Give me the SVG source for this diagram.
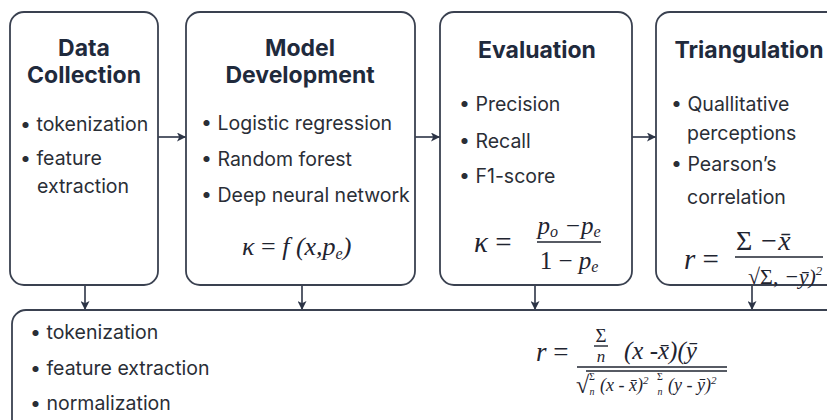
<svg xmlns="http://www.w3.org/2000/svg" width="827" height="420" viewBox="0 0 827 420">
<defs>
<marker id="ah" viewBox="0 0 10 10" refX="10" refY="5" markerWidth="9" markerHeight="9" markerUnits="userSpaceOnUse" orient="auto">
<path d="M0,0 L10,5 L0,10 L2.5,5 Z" fill="#2c3446"/>
</marker>
</defs>
<style>
.box{fill:#fff;stroke:#3a4150;stroke-width:1.8}
.t{font-family:Inter,"Liberation Sans",sans-serif;font-weight:700;font-size:23px;fill:#1f2a3c;text-anchor:middle}
.b{font-family:Inter,"Liberation Sans",sans-serif;font-size:19.5px;fill:#2a2e36}
.m{font-family:"Liberation Serif","DejaVu Serif",serif;font-style:italic;fill:#1f2430}
.u{font-family:"Liberation Serif","DejaVu Serif",serif;fill:#1f2430}
.c{stroke:#2c3446;stroke-width:1.6;fill:none}
.f{stroke:#1f2430;stroke-width:1.4;fill:none}
</style>
<rect width="827" height="420" fill="#ffffff"/>

<g id="connectors">
<line class="c" x1="158" y1="137" x2="186" y2="137" marker-end="url(#ah)"/>
<line class="c" x1="415" y1="137" x2="440" y2="137" marker-end="url(#ah)"/>
<line class="c" x1="632" y1="137" x2="656" y2="137" marker-end="url(#ah)"/>
<line class="c" x1="85" y1="285" x2="85" y2="310" marker-end="url(#ah)"/>
<line class="c" x1="302" y1="285" x2="302" y2="310" marker-end="url(#ah)"/>
<line class="c" x1="535" y1="285" x2="535" y2="310" marker-end="url(#ah)"/>
<line class="c" x1="752" y1="285" x2="752" y2="310" marker-end="url(#ah)"/>
</g>

<g id="data-collection">
<rect class="box" x="10" y="12" width="148" height="273" rx="14"/>
<text class="t" x="84" y="56">Data</text>
<text class="t" x="84" y="83">Collection</text>
<text class="b" x="20" y="131">• tokenization</text>
<text class="b" x="20" y="165">• feature</text>
<text class="b" x="37" y="193">extraction</text>
</g>

<g id="model-development">
<rect class="box" x="186" y="12" width="229" height="273" rx="14"/>
<text class="t" x="300" y="56">Model</text>
<text class="t" x="300" y="83">Development</text>
<text class="b" x="201" y="130">• Logistic regression</text>
<text class="b" x="201" y="166">• Random forest</text>
<text class="b" x="201" y="202">• Deep neural network</text>
<text class="m" x="242" y="255" font-size="26">κ <tspan class="u" font-style="normal">=</tspan> f (x,p<tspan font-size="16" dy="4">e</tspan><tspan dy="-4">)</tspan></text>
</g>

<g id="evaluation">
<rect class="box" x="440" y="12" width="192" height="273" rx="14"/>
<text class="t" x="537" y="58">Evaluation</text>
<text class="b" x="459" y="111">• Precision</text>
<text class="b" x="459" y="148">• Recall</text>
<text class="b" x="459" y="183">• F1-score</text>
<text class="m" x="474" y="252" font-size="29">κ <tspan font-style="normal">=</tspan></text>
<text class="m" x="569" y="234" font-size="25" text-anchor="middle">p<tspan font-size="16" dy="3">o</tspan><tspan dy="-3"> −p</tspan><tspan font-size="16" dy="3">e</tspan></text>
<line class="f" x1="537" y1="242" x2="601" y2="242"/>
<text class="m" x="569" y="269" font-size="25" text-anchor="middle"><tspan font-style="normal">1 − </tspan>p<tspan font-size="16" dy="3">e</tspan></text>
</g>

<g id="triangulation">
<rect class="box" x="656" y="12" width="190" height="273" rx="14"/>
<text class="t" x="749" y="58">Triangulation</text>
<text class="b" x="671" y="111">• Quallitative</text>
<text class="b" x="687" y="140">perceptions</text>
<text class="b" x="671" y="171">• Pearson’s</text>
<text class="b" x="687" y="204">correlation</text>
<text class="m" x="684" y="269" font-size="29">r <tspan font-style="normal">=</tspan></text>
<text class="m" x="736" y="250" font-size="28"><tspan font-style="normal">Σ</tspan> −x̄</text>
<line class="f" x1="735" y1="257" x2="823" y2="257"/>
<text class="m" x="748" y="284" font-size="22"><tspan font-style="normal">√Σ,</tspan> −ȳ)<tspan font-size="13" dy="-9">2</tspan></text>
</g>

<g id="preprocessing">
<rect class="box" x="12" y="310" width="830" height="130" rx="14"/>
<text class="b" x="30" y="339">• tokenization</text>
<text class="b" x="30" y="375">• feature extraction</text>
<text class="b" x="30" y="410">• normalization</text>
<text class="m" x="536" y="361" font-size="27">r <tspan font-style="normal">=</tspan></text>
<text class="u" x="601" y="342" font-size="19" text-anchor="middle">Σ</text>
<line class="f" x1="594" y1="346" x2="608" y2="346" stroke-width="1"/>
<text class="m" x="601" y="362" font-size="17" text-anchor="middle">n</text>
<text class="m" x="624" y="359" font-size="25">(x -x̄)(ȳ</text>
<line class="f" x1="577" y1="367" x2="727" y2="367"/>
<line class="f" x1="586" y1="371" x2="727" y2="371" stroke-width="1.1"/>
<text class="u" x="576" y="393" font-size="24">√</text>
<text class="u" x="592" y="380" font-size="10" text-anchor="middle">Σ</text>
<text class="m" x="592" y="395" font-size="10" text-anchor="middle">n</text>
<text class="m" x="600" y="391" font-size="18">(x - x̄)<tspan font-size="11" dy="-7">2</tspan></text>
<text class="u" x="660" y="380" font-size="10" text-anchor="middle">Σ</text>
<text class="m" x="660" y="395" font-size="10" text-anchor="middle">n</text>
<text class="m" x="668" y="391" font-size="18">(y - ȳ)<tspan font-size="11" dy="-7">2</tspan></text>
</g>
</svg>
